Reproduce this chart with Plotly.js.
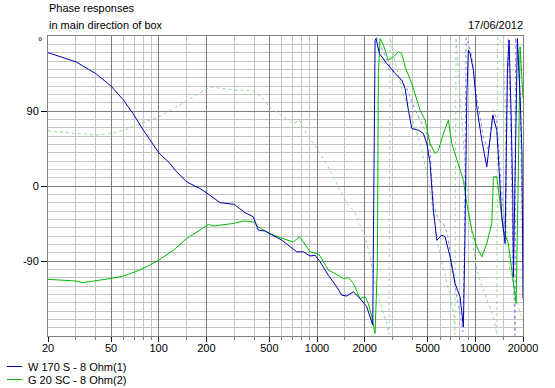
<!DOCTYPE html>
<html>
<head>
<meta charset="utf-8">
<script src="https://cdn.plot.ly/plotly-3.0.1.min.js"></script>
<style>
html,body{margin:0;padding:0;background:#fff;}
#chart{width:555px;height:388px;}
</style>
</head>
<body>
<div id="chart"></div>
<script>
// ---- data ----
var blueFreq = [20, 24, 30, 40, 50, 60, 70, 80, 100, 118, 127, 150, 182, 200, 244, 300, 351, 396, 426, 470, 500, 600, 745, 820, 904, 972, 1046, 1179, 1333, 1433, 1542, 1697, 1870, 2062, 2164, 2218, 2250, 2265, 2280, 2300, 2327, 2360, 2478, 2758, 3112, 3432, 3600, 3777, 3968, 4368, 4697, 4938, 5178, 5435, 5710, 6138, 6442, 6928, 7448, 8012, 8406, 8612, 8832, 9038, 9266, 9724, 10212, 10986, 11812, 12894, 13664, 14696, 15418, 15940, 16340, 16822, 17246, 17396, 18436, 19176, 19700, 20000];
var bluePhase = [160, 155, 149, 135, 120, 103, 85, 67, 40, 27, 19, 5, -3, -8, -20, -22, -32, -37, -53, -54, -57, -65, -79, -79, -84, -83, -91, -107, -121, -131, -132, -127, -135, -145, -157, -165, -167, -93, -41, 47, 175, 177, 159, 147, 135, 127, 117, 91, 69, 67, 63, 51, 27, -29, -65, -59, -61, -85, -117, -133, -169, -53, 107, 163, 159, 139, 95, 55, 23, 85, 67, -37, -69, 139, 175, 87, -13, -109, 177, 107, 40, -135];

var greenFreq = [20, 30, 33, 40, 50, 60, 71, 84, 100, 124, 150, 182, 206, 221, 244, 296, 343, 396, 426, 500, 628, 709, 774, 820, 904, 997, 1046, 1179, 1300, 1467, 1578, 1697, 1870, 2012, 2110, 2218, 2327, 2406, 2441, 2478, 2502, 2626, 2824, 3036, 3266, 3432, 3600, 3968, 4478, 4814, 5178, 5568, 5844, 6286, 6758, 7098, 7818, 8406, 8832, 9498, 10212, 10986, 11812, 12706, 13004, 13664, 14332, 15038, 16172, 17396, 18092, 18700, 19176, 20000];
var greenPhase = [-112, -114, -116, -114, -111, -108, -103, -97, -89, -77, -63, -53, -46, -48, -47, -45, -42, -43, -49, -57, -64, -67, -61, -67, -79, -81, -84, -101, -105, -111, -110, -117, -135, -133, -141, -157, -177, -93, 135, 175, 177, 169, 151, 155, 161, 159, 143, 123, 91, 79, 51, 39, 43, 63, 79, 51, 27, 7, -21, -53, -73, -85, -69, -45, 11, 11, -21, -53, -69, -117, -141, 20, 167, 105];

var blueRefFreq = [2360, 2500, 2894, 3300, 3690, 4200, 4814, 5127, 5435, 5844, 6286, 6660, 7098, 7638, 8012, 8212, 8350, 8550, 8740, 9038, 9500, 10200, 11242, 12092, 13004, 13664, 14700, 15400, 15800, 16172, 16800, 17300, 17826, 17900, 18500, 19200, 20000];
var blueRefPhase = [179, 170, 143, 130, 117, 90, 67, 55, -21, -41, -45, -57, -93, -133, -153, -169, -175, -60, 178, 171, 155, 107, 59, 43, 91, 79, -10, -50, 100, 178, 60, -90, -179, 178, 165, 110, -100];

var greenRefFreq = [20, 30, 40, 50, 60, 73, 100, 150, 200, 211, 300, 387, 448, 500, 613, 709, 774, 820, 948, 1046, 1209, 1398, 1467, 1542, 1697, 1783, 2012, 2164, 2270, 2500, 2758, 2850, 2894, 3100, 3500, 4000, 4500, 5000, 5400, 5800, 6200, 6800, 7300, 7420, 7550, 7900, 8500, 9200, 10200, 11000, 12000, 13000, 13700, 13800, 15000, 15400, 15800, 16500, 17500, 19000, 20000];
var greenRefPhase = [66, 63, 61, 63, 67, 73, 83, 102, 117, 119, 115, 115, 107, 95, 83, 75, 79, 69, 51, 39, 19, -5, -13, -21, -29, -37, -61, -85, -109, -140, -165, -178, 178, 150, 110, 80, 50, 10, -30, -70, -95, -125, -155, -178, 178, 120, 40, -40, -100, -120, -140, -157, -178, 178, 170, 100, -60, -100, -120, -150, -160];

var xTickVals = [20, 50, 100, 200, 500, 1000, 2000, 5000, 10000, 20000];
var xTickText = ['20', '50', '100', '200', '500', '1000', '2000', '5000', '10000', '20000'];
var xMinorVals = [30, 40, 60, 70, 80, 90, 150, 300, 400, 600, 700, 800, 900, 1500, 3000, 4000, 6000, 7000, 8000, 9000, 15000];
var yTickVals = [-90, 0, 90];
var yTickText = ['-90', '0', '90'];
var yMinorVals = [-170, -160, -150, -140, -130, -120, -110, -100, -80, -70, -60, -50, -40, -30, -20, -10, 10, 20, 30, 40, 50, 60, 70, 80, 100, 110, 120, 130, 140, 150, 160, 170];

var legendNames = ['W 170 S - 8 Ohm(1)', 'G 20 SC - 8 Ohm(2)'];
var titleLines = ['Phase responses', 'in main direction of box'];
var dateText = '17/06/2012';

// ---- styling ----
var cBlue = '#0000b4', cGreen = '#00bb00', cBlueRef = '#8c8ce6', cGreenRef = '#9ad89a';
var majorGrid = '#808080', minorGrid = '#c6c6c6';
var FONT = 'Liberation Sans, Arial, sans-serif';

var traces = [
  {x: greenRefFreq, y: greenRefPhase, mode: 'lines', line: {color: cGreenRef, width: 1, dash: '3px,3px'}, hoverinfo: 'skip'},
  {x: blueRefFreq, y: blueRefPhase, mode: 'lines', line: {color: cBlueRef, width: 1, dash: '3px,3px'}, hoverinfo: 'skip'},
  {x: greenFreq, y: greenPhase, mode: 'lines', name: legendNames[1], line: {color: cGreen, width: 1}, hoverinfo: 'skip'},
  {x: blueFreq, y: bluePhase, mode: 'lines', name: legendNames[0], line: {color: cBlue, width: 1}, hoverinfo: 'skip'}
];

var L = 48, R = 523, T = 36, B = 336;
function px(X){ return (X - L) / (R - L); }
function py(Y){ return (B - Y) / (B - T); }

var layout = {
  width: 555, height: 388,
  margin: {l: L, r: 555 - R, t: T, b: 388 - B, pad: 0},
  paper_bgcolor: '#ffffff', plot_bgcolor: '#ffffff',
  showlegend: false,
  font: {family: FONT, size: 11, color: '#000'},
  xaxis: {
    type: 'log', range: [Math.log10(20), Math.log10(20000)],
    tickmode: 'array', tickvals: xTickVals, ticktext: xTickText,
    ticks: 'outside', ticklen: 5, tickwidth: 1, tickcolor: '#000',
    ticklabelstandoff: -3,
    showgrid: true, gridcolor: majorGrid, gridwidth: 1,
    minor: {tickmode: 'array', tickvals: xMinorVals, ticks: 'outside', ticklen: 3, tickcolor: '#808080', showgrid: true, gridcolor: minorGrid, gridwidth: 1},
    showline: true, linecolor: majorGrid, linewidth: 1, mirror: true,
    zeroline: false, tickfont: {family: FONT, size: 11, color: '#000'},
    fixedrange: true
  },
  yaxis: {
    range: [-180, 180],
    tickmode: 'array', tickvals: yTickVals, ticktext: yTickText,
    ticks: 'outside', ticklen: 6, tickwidth: 1, tickcolor: '#000',
    showgrid: true, gridcolor: majorGrid, gridwidth: 1,
    minor: {tickmode: 'array', tickvals: yMinorVals, ticks: '', showgrid: true, gridcolor: minorGrid, gridwidth: 1},
    showline: true, linecolor: majorGrid, linewidth: 1, mirror: true,
    zeroline: false, tickfont: {family: FONT, size: 11, color: '#000'},
    fixedrange: true
  },
  annotations: [
    {xref: 'paper', yref: 'paper', x: px(47), y: py(8), xanchor: 'left', yanchor: 'middle', text: titleLines[0], showarrow: false, font: {family: FONT, size: 11, color: '#000'}},
    {xref: 'paper', yref: 'paper', x: px(47), y: py(24.5), xanchor: 'left', yanchor: 'middle', text: titleLines[1], showarrow: false, font: {family: FONT, size: 11, color: '#000'}},
    {xref: 'paper', yref: 'paper', x: px(525), y: py(24.5), xanchor: 'right', yanchor: 'middle', text: dateText, showarrow: false, font: {family: FONT, size: 11, color: '#000'}},
    {xref: 'paper', yref: 'paper', x: px(40), y: py(41), xanchor: 'center', yanchor: 'middle', text: '°', showarrow: false, font: {family: FONT, size: 11, color: '#000'}},
    {xref: 'paper', yref: 'paper', x: px(26), y: py(366.5), xanchor: 'left', yanchor: 'middle', text: legendNames[0], showarrow: false, font: {family: FONT, size: 11, color: '#000'}},
    {xref: 'paper', yref: 'paper', x: px(26), y: py(379.5), xanchor: 'left', yanchor: 'middle', text: legendNames[1], showarrow: false, font: {family: FONT, size: 11, color: '#000'}}
  ],
  shapes: [
    {type: 'line', xref: 'paper', yref: 'paper', x0: px(7), x1: px(22), y0: py(366.5), y1: py(366.5), line: {color: cBlue, width: 1}},
    {type: 'line', xref: 'paper', yref: 'paper', x0: px(7), x1: px(22), y0: py(379.5), y1: py(379.5), line: {color: cGreen, width: 1}}
  ]
};

Plotly.newPlot('chart', traces, layout, {staticPlot: true, displayModeBar: false});
</script>
</body>
</html>
